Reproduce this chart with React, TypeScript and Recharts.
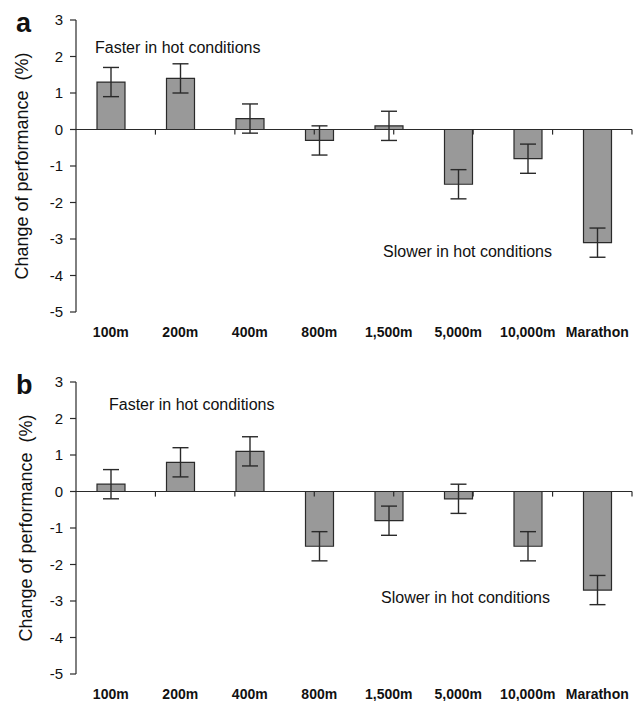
import { BarChart, Bar, XAxis, YAxis, ErrorBar, ReferenceLine } from 'recharts'

const categories = ['100m', '200m', '400m', '800m', '1,500m', '5,000m', '10,000m', 'Marathon']
const changeA = [1.3, 1.4, 0.3, -0.3, 0.1, -1.5, -0.8, -3.1]
const errorA = [0.4, 0.4, 0.4, 0.4, 0.4, 0.4, 0.4, 0.4]
const changeB = [0.2, 0.8, 1.1, -1.5, -0.8, -0.2, -1.5, -2.7]
const errorB = [0.4, 0.4, 0.4, 0.4, 0.4, 0.4, 0.4, 0.4]
const yTicks = [-5, -4, -3, -2, -1, 0, 1, 2, 3]

const FONT = '"Liberation Sans", Arial, sans-serif'
const INK = '#2a2a2a'

type Note = { text: string; x: number; y: number }

function Panel({ letter, values, errors, faster, slower, labelX }: { letter: string; values: number[]; errors: number[]; faster: Note; slower: Note; labelX: number }) {
  const data = categories.map((name, i) => ({ name, value: values[i], err: errors[i] }))
  const boundaries = categories.map((_, i) => i + 1)

  return (
    <div style={{ position: 'relative', width: 638, height: 350 }}>
      <BarChart width={638} height={350} data={data} margin={{ top: 20, right: 6, bottom: 0, left: 0 }}>
        <XAxis dataKey="name" axisLine={false} tickLine={false} tickSize={0} tickMargin={15} height={38} interval={0}
          tick={{ fontSize: 14, fontWeight: 'bold', fill: '#111', fontFamily: FONT }} />
        <XAxis xAxisId="grid" type="number" domain={[0, categories.length]} hide />
        <YAxis domain={[-5, 3]} ticks={yTicks} width={76} tickSize={6} tickMargin={7} interval={0}
          axisLine={{ stroke: INK, strokeWidth: 1.2 }} tickLine={{ stroke: INK, strokeWidth: 1.2 }}
          tick={{ fontSize: 15, fill: '#111', fontFamily: FONT }}
          label={{
            content: (props: any) => {
              const vb = props.viewBox
              const cy = vb.y + vb.height / 2
              return (
                <text x={labelX} y={cy} transform={`rotate(-90 ${labelX} ${cy})`} textAnchor="middle"
                  fontSize={18} fill="#111" fontFamily={FONT} style={{ whiteSpace: 'pre' }}>
                  {'Change of performance  (%)'}
                </text>
              )
            },
          }} />
        <Bar dataKey="value" fill="#999999" stroke={INK} strokeWidth={1.2} barSize={28} isAnimationActive={false}>
          <ErrorBar dataKey="err" width={8} stroke={INK} strokeWidth={1.4} direction="y" />
        </Bar>
        <ReferenceLine y={0} stroke={INK} strokeWidth={1.2} />
        {boundaries.map((b) => (
          <ReferenceLine key={b} xAxisId="grid" stroke={INK} strokeWidth={1.2}
            segment={[{ x: b, y: 0 }, { x: b, y: -0.14 }]} />
        ))}
      </BarChart>
      <svg width={638} height={350} style={{ position: 'absolute', left: 0, top: 0, pointerEvents: 'none' }}>
        <text x={16} y={32} fontSize={27} fontWeight="bold" fill="#111" fontFamily={FONT}>{letter}</text>
        <text x={faster.x} y={faster.y} fontSize={16} fill="#111" fontFamily={FONT}>{faster.text}</text>
        <text x={slower.x} y={slower.y} fontSize={16} fill="#111" fontFamily={FONT}>{slower.text}</text>
      </svg>
    </div>
  )
}

export default function App() {
  return (
    <div style={{ position: 'absolute', left: 0, top: 0, width: 638, height: 701, background: '#fff' }}>
      <div style={{ position: 'absolute', left: 0, top: 0 }}>
        <Panel letter="a" values={changeA} errors={errorA} labelX={28}
          faster={{ text: 'Faster in hot conditions', x: 95, y: 53 }}
          slower={{ text: 'Slower in hot conditions', x: 383, y: 257 }} />
      </div>
      <div style={{ position: 'absolute', left: 0, top: 362 }}>
        <Panel letter="b" values={changeB} errors={errorB} labelX={32}
          faster={{ text: 'Faster in hot conditions', x: 109, y: 48 }}
          slower={{ text: 'Slower in hot conditions', x: 381, y: 241 }} />
      </div>
    </div>
  )
}
